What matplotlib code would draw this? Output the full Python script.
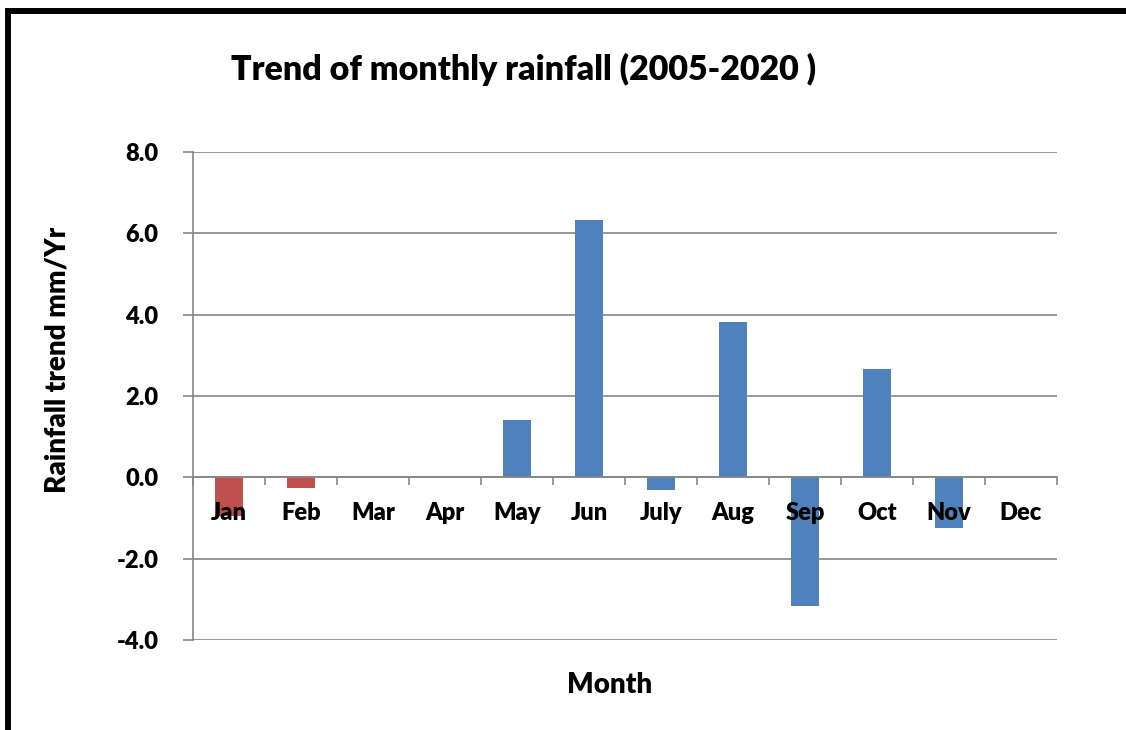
import numpy as np
import matplotlib.pyplot as plt
from matplotlib.patches import Rectangle

# datos
meses = ['Jan', 'Feb', 'Mar', 'Apr', 'May', 'Jun', 'July', 'Aug', 'Sep', 'Oct', 'Nov', 'Dec']
tendencia = [-0.96, -0.27, 0.0, 0.02, 1.40, 6.32, -0.30, 3.81, -3.17, 2.66, -1.25, 0.0]
colores = ['#C0504D', '#C0504D'] + ['#4F81BD'] * 10
y_ticks = [-4.0, -2.0, 0.0, 2.0, 4.0, 6.0, 8.0]

peso = 'heavy'
plt.rcParams['font.family'] = ['Lato', 'DejaVu Sans']
plt.rcParams['font.weight'] = peso

fig = plt.figure(figsize=(11.26, 7.30), dpi=100)
ax = fig.add_axes([0.1714, 0.1233, 0.7673, 0.6685])

x = np.arange(len(meses))
ax.bar(x, tendencia, width=0.4, color=colores, zorder=3)

ax.set_xlim(-0.5, len(meses) - 0.5)
ax.set_ylim(-4, 8)
ax.set_yticks(y_ticks)
ax.set_yticklabels(['%.1f' % v for v in y_ticks], fontsize=17, fontweight=peso)
ax.yaxis.grid(True, color='#868686', linewidth=1.2, zorder=0)

# ticks entre categorias, etiquetas como texto encima de las barras
ax.set_xticks([])
ax.set_xticks(np.arange(-0.5, len(meses)), minor=True)
ax.tick_params(axis='x', which='minor', length=6, width=1.2, color='#868686', direction='out')
ax.tick_params(axis='y', length=7, width=1.2, color='#868686', pad=18)
for i, m in enumerate(meses):
    ax.text(x[i], -0.88, m, fontsize=17, fontweight=peso, ha='center', va='center', zorder=5)

ax.spines['bottom'].set_position(('data', 0))
ax.spines['bottom'].set_color('#868686')
ax.spines['bottom'].set_linewidth(1.2)
ax.spines['bottom'].set_zorder(4)
ax.spines['left'].set_color('#868686')
ax.spines['left'].set_linewidth(1.2)
ax.spines['top'].set_visible(False)
ax.spines['right'].set_visible(False)

fig.text(0.465, 0.905, 'Trend of monthly rainfall (2005-2020 )', fontsize=24.5,
         fontweight=peso, ha='center', va='center')
fig.text(0.541, 0.062, 'Month', fontsize=20, fontweight=peso, ha='center', va='center')
fig.text(0.051, 0.507, 'Rainfall trend mm/Yr', fontsize=20, fontweight=peso,
         ha='center', va='center', rotation=90)

# marco negro
fig.patches.append(Rectangle((0.0067, -0.2), 1.2, 0.2 + 0.985, transform=fig.transFigure,
                             fill=False, edgecolor='black', linewidth=4.3))

fig.savefig('out.png', dpi=100)
